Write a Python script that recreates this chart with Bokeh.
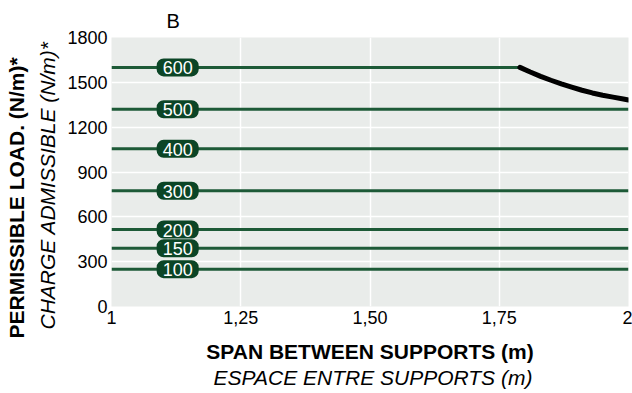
from bokeh.plotting import figure
from bokeh.models import LinearAxis, FixedTicker, Range1d, Grid, Title
from bokeh.core.properties import value
from bokeh.embed import file_html
from bokeh.resources import INLINE

# data
series_labels = ["100", "150", "200", "300", "400", "500", "600"]
series_values = [250, 390, 515, 775, 1055, 1320, 1600]
series_x_end = [2.0, 2.0, 2.0, 2.0, 2.0, 2.0, 1.79]
badge_x = 1.128
curve_x = [1.79, 1.81, 1.83, 1.85, 1.87, 1.89, 1.91, 1.93, 1.95, 1.97, 1.99, 2.0]
curve_y = [1600, 1569, 1540, 1514, 1490, 1468, 1447, 1429, 1414, 1401, 1388, 1382]
x_ticks = [1, 1.25, 1.5, 1.75, 2]
x_tick_labels = ["1", "1,25", "1,50", "1,75", "2"]
y_ticks = [0, 300, 600, 900, 1200, 1500, 1800]

FONT = "Liberation Sans"
LINE_GREEN = "#1d5a37"
BADGE_GREEN = "#0b4526"

p = figure(width=632, height=393, output_backend="svg", toolbar_location=None,
           title=None,
           x_range=Range1d(1, 2), y_range=Range1d(0, 1800),
           x_axis_location=None, y_axis_location=None,
           min_border_left=111, min_border_right=4, min_border_top=37, min_border_bottom=87)
p.outline_line_color = None
p.background_fill_color = "#e9ecea"
p.border_fill_color = "white"
p.center = [r for r in p.center if not isinstance(r, Grid)]

def style_axis(ax):
    ax.axis_line_color = None
    ax.major_tick_line_color = None
    ax.minor_tick_line_color = None
    ax.major_tick_out = 0
    ax.major_tick_in = 0
    ax.major_label_text_font = FONT
    ax.major_label_text_font_size = "18px"
    ax.major_label_text_color = "black"
    ax.axis_label_text_font = FONT
    ax.axis_label_text_font_size = "21px"
    ax.axis_label_text_color = "black"

yax = LinearAxis(ticker=FixedTicker(ticks=y_ticks))
style_axis(yax)
yax.major_label_standoff = 4
p.add_layout(yax, "left")

xax = LinearAxis(ticker=FixedTicker(ticks=x_ticks))
style_axis(xax)
xax.major_label_overrides = {t: l for t, l in zip(x_ticks, x_tick_labels)}
xax.major_label_standoff = 4
xax.axis_label = "SPAN BETWEEN SUPPORTS (m)"
xax.axis_label_text_font_style = "bold"
xax.axis_label_standoff = 13
p.add_layout(xax, "below")

def make_title(text, style, size, align, valign, offset, standoff):
    return Title(text=text, text_font=FONT, text_font_size=size, text_font_style=style,
                 text_color="black", align=align, vertical_align=valign,
                 offset=offset, standoff=standoff)

p.add_layout(make_title("ESPACE ENTRE SUPPORTS (m)", "italic", "21px", "left", "top", 102, 0), "below")
p.add_layout(make_title("CHARGE ADMISSIBLE (N/m)*", "italic", "21px", "left", "bottom", -23, 11), "left")
p.add_layout(make_title("PERMISSIBLE LOAD. (N/m)*", "bold", "21px", "left", "bottom", -32, 1), "left")
p.add_layout(make_title("B", "normal", "20px", "left", "top", 55, 7), "above")

# grids
gx = Grid(dimension=0, ticker=FixedTicker(ticks=x_ticks), grid_line_color="white", grid_line_width=1.5)
gy = Grid(dimension=1, ticker=FixedTicker(ticks=y_ticks), grid_line_color="white", grid_line_width=1.5)
p.add_layout(gx, "center")
p.add_layout(gy, "center")

# series lines
p.segment(x0=[1.0] * len(series_values), y0=series_values, x1=series_x_end, y1=series_values,
          line_color=LINE_GREEN, line_width=3)

# curve
p.line(curve_x, curve_y, line_color="black", line_width=5, line_cap="round", line_join="round")

# badges
p.text(x=[badge_x] * len(series_values), y=series_values, text=series_labels,
       text_color="white", text_font=value(FONT), text_font_size="18px",
       text_align="center", text_baseline="middle",
       background_fill_color=BADGE_GREEN, border_radius=7,
       padding=dict(left=6, right=6, top=3, bottom=2))

open("out.html", "w").write(file_html(p, INLINE))
